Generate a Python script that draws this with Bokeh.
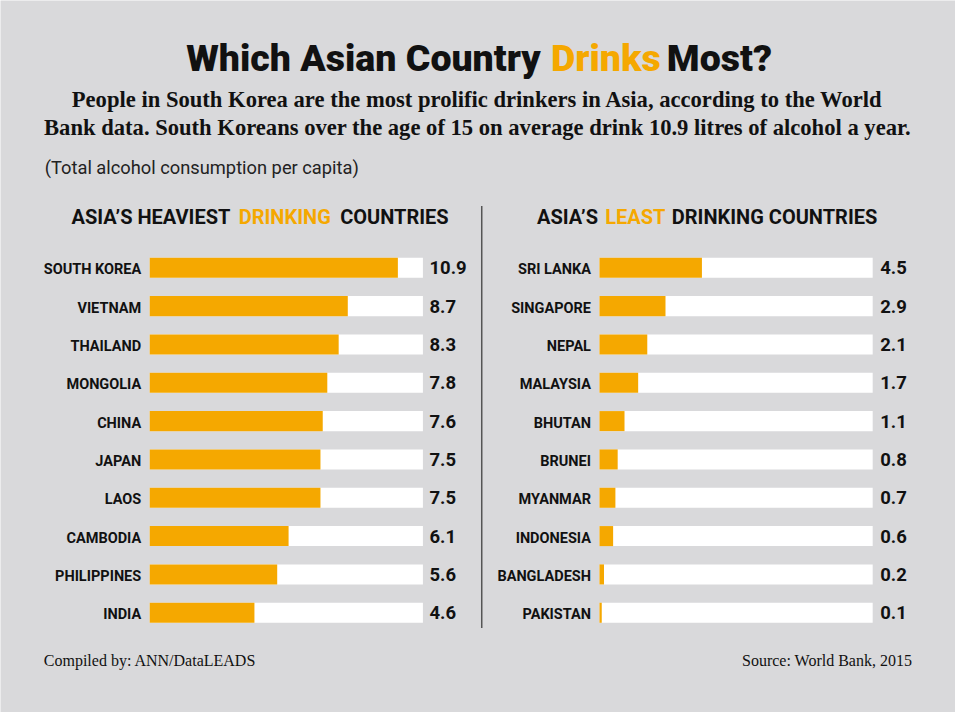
from bokeh.plotting import figure
from bokeh.models import Range1d, Label, ColumnDataSource
from bokeh.core.properties import value
from bokeh.embed import file_html
from bokeh.resources import INLINE

# ---------------- data ----------------
heavy_countries = ["SOUTH KOREA", "VIETNAM", "THAILAND", "MONGOLIA", "CHINA",
                   "JAPAN", "LAOS", "CAMBODIA", "PHILIPPINES", "INDIA"]
heavy_values = [10.9, 8.7, 8.3, 7.8, 7.6, 7.5, 7.5, 6.1, 5.6, 4.6]

least_countries = ["SRI LANKA", "SINGAPORE", "NEPAL", "MALAYSIA", "BHUTAN",
                   "BRUNEI", "MYANMAR", "INDONESIA", "BANGLADESH", "PAKISTAN"]
least_values = [4.5, 2.9, 2.1, 1.7, 1.1, 0.8, 0.7, 0.6, 0.2, 0.1]

scale_max = 12  # full length of the white track, litres

# ---------------- style / layout ----------------
BG = "#d9d9db"
ORANGE = "#f5a800"
INK = "#111111"
W, H = 955, 712
SX, SY = W / 971, H / 728          # reference-image px -> canvas px

PX_PER_UNIT = 23.15 * SX
L0 = 151.7 * SX     # canvas x of zero (left panel)
R0 = 609.0 * SX     # canvas x of zero (right panel)
ROW0 = 273.3 * SY   # canvas y of first row centre
ROW_STEP = 39.19 * SY
BAR_H = 20.5 * SY / ROW_STEP

TITLE_FONT = "Roboto Black"
SANS = "Liberation Sans"
COND = "Roboto"
SERIF = "Liberation Serif"


def X(rx):
    return (rx * SX - L0) / PX_PER_UNIT


def Y(ry):
    return (ry * SY - ROW0) / ROW_STEP


p = figure(width=W, height=H, output_backend="svg", toolbar_location=None,
           x_range=Range1d(-L0 / PX_PER_UNIT, (W - L0) / PX_PER_UNIT),
           y_range=Range1d((H - ROW0) / ROW_STEP, -ROW0 / ROW_STEP),
           x_axis_location=None, y_axis_location=None,
           min_border=0, background_fill_color=BG, border_fill_color=BG,
           outline_line_color=None)
p.grid.visible = False
p.extra_x_ranges = {"right": Range1d(-R0 / PX_PER_UNIT, (W - R0) / PX_PER_UNIT)}


def panel(countries, values, range_name, val_gap):
    n = len(countries)
    src = ColumnDataSource(dict(
        y=list(range(n)),
        country=countries,
        val=values,
        label=[f"{v:.1f}" for v in values],
        track=[scale_max] * n,
    ))
    p.hbar(y="y", left=0, right="track", height=BAR_H, source=src,
           fill_color="white", line_color=None, x_range_name=range_name)
    p.hbar(y="y", left=0, right="val", height=BAR_H, source=src,
           fill_color=ORANGE, line_color=None, x_range_name=range_name)
    p.text(x=0, y="y", text="country", source=src, x_offset=-8.5, y_offset=2,
           text_align="right", text_baseline="middle",
           text_font=value(COND), text_font_style="bold",
           text_font_size="14.5px", text_color=INK, x_range_name=range_name)
    p.text(x="track", y="y", text="label", source=src, x_offset=val_gap, y_offset=0,
           text_align="left", text_baseline="middle",
           text_font=value(COND), text_font_style="bold",
           text_font_size="18.5px", text_color=INK, x_range_name=range_name)


panel(heavy_countries, heavy_values, "default", 6.5)
panel(least_countries, least_values, "right", 7.5)

# divider
p.segment(x0=[X(489.3)], y0=[Y(210)], x1=[X(489.3)], y1=[Y(641.7)],
          line_color="#555555", line_width=1.5)


def lab(x, y, text, align="left", font=SANS, size="20px", style="normal",
        color=INK):
    p.add_layout(Label(x=X(x), y=Y(y), text=text, text_align=align,
                       text_baseline="middle", text_font=font,
                       text_font_size=size, text_font_style=style,
                       text_color=color))


# title (x = centre of each word group in the reference)
TS = "37.5px"
lab(369, 58.8, "Which Asian Country", "center", TITLE_FONT, TS, "normal")
lab(615.5, 58.8, "Drinks", "center", TITLE_FONT, TS, "normal", ORANGE)
lab(731, 58.8, "Most?", "center", TITLE_FONT, TS, "normal")

# subtitle
lab(485, 100.8, "People in South Korea are the most prolific drinkers in Asia, according to the World",
    "center", SERIF, "22.6px", "bold")
lab(485, 129.5, "Bank data. South Koreans over the age of 15 on average drink 10.9 litres of alcohol a year.",
    "center", SERIF, "22.6px", "bold")
lab(45, 170.5, "(Total alcohol consumption per capita)", "left", COND, "18.3px",
    "normal", "#222222")

# panel headers
HS = "20px"
lab(153, 221.7, "ASIA\u2019S HEAVIEST", "center", COND, HS, "bold")
lab(289, 221.7, "DRINKING", "center", COND, HS, "bold", ORANGE)
lab(400.5, 221.7, "COUNTRIES", "center", COND, HS, "bold")

lab(576.5, 221.7, "ASIA\u2019S", "center", COND, HS, "bold")
lab(645.5, 221.7, "LEAST", "center", COND, HS, "bold", ORANGE)
lab(787, 221.7, "DRINKING COUNTRIES", "center", COND, HS, "bold")

# footer
lab(44, 675, "Compiled by: ANN/DataLEADS", "left", SERIF, "16px", "normal")
lab(927, 675, "Source: World Bank, 2015", "right", SERIF, "16px", "normal")

open("out.html", "w").write(file_html(p, INLINE))
